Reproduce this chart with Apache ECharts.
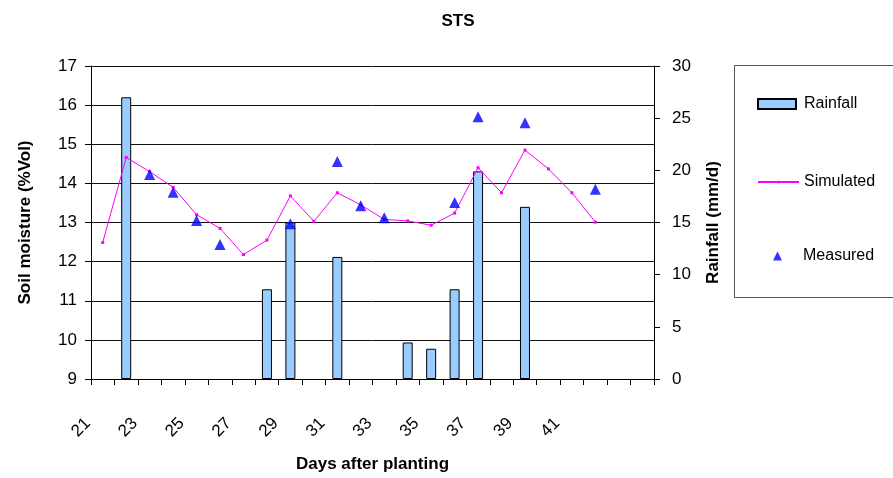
<!DOCTYPE html>
<html>
<head>
<meta charset="utf-8">
<script src="https://cdn.jsdelivr.net/npm/echarts@6/dist/echarts.min.js"></script>
<style>
html,body{margin:0;padding:0;background:#fff;}
#chart{width:893px;height:478px;}
</style>
</head>
<body>
<div id="chart"></div>
<script>
// Days after planting (category axis); trailing blanks are empty categories
const days = ['21','22','23','24','25','26','27','28','29','30','31','32','33','34','35','36','37','38','39','40','41','42','',''];
// Rainfall (mm/d), right axis
const rainfall = [null,27,null,null,null,null,null,8.6,15,null,11.7,null,null,3.5,2.9,8.6,19.9,null,16.5,null,null,null,null,null];
// Simulated soil moisture (%Vol)
const simulated = [12.49,14.66,14.3,13.9,13.2,12.85,12.18,12.55,13.68,13.03,13.76,13.45,13.08,13.04,12.93,13.24,14.4,13.76,14.85,14.37,13.76,13.01,null,null];
// Measured soil moisture (%Vol)
const measured = [null,null,14.23,13.77,13.05,12.44,null,null,12.97,null,14.56,13.43,13.12,null,null,13.51,15.70,null,15.55,null,null,13.85,null,null];

const FONT = "'Liberation Sans', Arial, sans-serif";
const chart = echarts.init(document.getElementById('chart'), null, {renderer:'canvas'});
const legendText = {fontFamily: FONT, fontSize: 16, color: '#000'};

chart.setOption({
  animation: false,
  backgroundColor: '#fff',
  textStyle: {fontFamily: FONT},
  title: {
    text: 'STS', left: 453, top: 8, textAlign: 'center',
    textStyle: {fontFamily: FONT, fontSize: 17, fontWeight: 'bold', color: '#000'}
  },
  graphic: [{
    type: 'rect', shape: {x: 734.5, y: 65.5, width: 170, height: 232},
    style: {fill: 'none', stroke: '#555', lineWidth: 1}, silent: true, z: 0
  }],
  legend: [
    {data: [{name: 'Rainfall', icon: 'rect'}], left: 757, top: 96, padding: 0, itemWidth: 38, itemHeight: 10,
     textStyle: Object.assign({padding: [0,0,0,3]}, legendText)},
    {data: ['Simulated'], left: 757, top: 174, padding: 0, itemWidth: 41, itemHeight: 3,
     textStyle: legendText},
    {data: ['Measured'], left: 773, top: 248, padding: 0, itemWidth: 9, itemHeight: 9,
     textStyle: Object.assign({padding: [0,0,0,16]}, legendText)}
  ],
  grid: {left: 91, right: 239, top: 66, bottom: 95, containLabel: false},
  xAxis: {
    type: 'category', data: days, boundaryGap: true,
    name: 'Days after planting', nameLocation: 'middle', nameGap: 77,
    nameTextStyle: {fontFamily: FONT, fontSize: 17, fontWeight: 'bold', color: '#000'},
    axisLine: {lineStyle: {color: '#000', width: 1}},
    axisTick: {show: true, interval: 0, length: 6, lineStyle: {color: '#000'}},
    axisLabel: {interval: 1, rotate: 45, margin: 27, padding: [0, 21, 0, 0],
      fontFamily: FONT, fontSize: 17, color: '#000'},
    splitLine: {show: false}
  },
  yAxis: [
    {
      type: 'value', min: 9, max: 17, interval: 1, position: 'left',
      name: 'Soil moisture (%Vol)', nameLocation: 'middle', nameGap: 57, nameRotate: 90,
      nameTextStyle: {fontFamily: FONT, fontSize: 17, fontWeight: 'bold', color: '#000'},
      axisLine: {show: true, lineStyle: {color: '#000'}},
      axisTick: {show: true, length: 6, lineStyle: {color: '#000'}},
      axisLabel: {margin: 14, fontFamily: FONT, fontSize: 17, color: '#000'},
      splitLine: {show: true, lineStyle: {color: '#111', width: 1}}
    },
    {
      type: 'value', min: 0, max: 30, interval: 5, position: 'right',
      name: 'Rainfall (mm/d)', nameLocation: 'middle', nameGap: 51, nameRotate: 90,
      nameTextStyle: {fontFamily: FONT, fontSize: 17, fontWeight: 'bold', color: '#000'},
      axisLine: {show: true, lineStyle: {color: '#000'}},
      axisTick: {show: true, length: 6, lineStyle: {color: '#000'}},
      axisLabel: {margin: 18, fontFamily: FONT, fontSize: 17, color: '#000'},
      splitLine: {show: false}
    }
  ],
  series: [
    {
      name: 'Rainfall', type: 'bar', yAxisIndex: 1, data: rainfall, barWidth: 10,
      itemStyle: {color: '#99CCFF', borderColor: '#000', borderWidth: 1}, z: 2
    },
    {
      name: 'Simulated', type: 'line', yAxisIndex: 0, data: simulated,
      symbol: 'rect', symbolSize: 3, showSymbol: true, connectNulls: false,
      lineStyle: {color: '#FF00FF', width: 1}, itemStyle: {color: '#FF00FF'}, z: 3
    },
    {
      name: 'Measured', type: 'scatter', yAxisIndex: 0, data: measured,
      symbol: 'triangle', symbolSize: 11, itemStyle: {color: '#0000FF'}, z: 4
    }
  ]
});
</script>
</body>
</html>
